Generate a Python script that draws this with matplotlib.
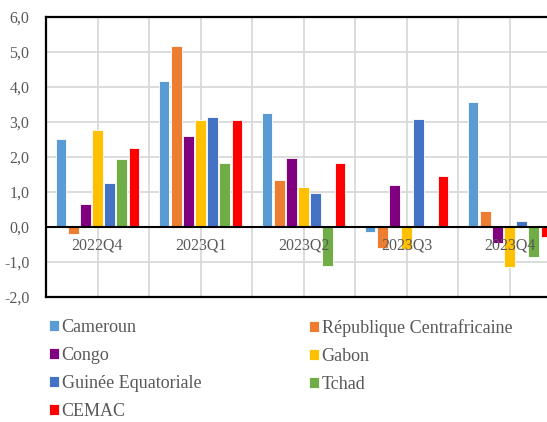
import numpy as np
import matplotlib
matplotlib.use("Agg")
import matplotlib.pyplot as plt

# quarters on the x axis
quarters = ["2022Q4", "2023Q1", "2023Q2", "2023Q3", "2023Q4"]

# values, one list per country
cameroun = [2.51, 4.16, 3.27, -0.13, 3.58]
rca = [-0.21, 5.16, 1.34, -0.59, 0.47]
congo = [0.66, 2.60, 1.97, 1.19, -0.45]
gabon = [2.77, 3.06, 1.14, -0.64, -1.15]
guinee = [1.26, 3.14, 0.98, 3.09, 0.17]
tchad = [1.94, 1.82, -1.10, -0.02, -0.87]
cemac = [2.26, 3.07, 1.82, 1.45, -0.29]

series_names = ["Cameroun", "République Centrafricaine", "Congo", "Gabon",
                "Guinée Equatoriale", "Tchad", "CEMAC"]
series_vals = [cameroun, rca, congo, gabon, guinee, tchad, cemac]
colors = ["#5B9BD5", "#ED7D31", "#800080", "#FFC000", "#4472C4", "#70AD47", "#FF0000"]

yticks = [-2, -1, 0, 1, 2, 3, 4, 5, 6]

TEXT = "#595959"
plt.rcParams["font.family"] = ["Liberation Serif", "DejaVu Serif"]

fig = plt.figure(figsize=(5.47, 4.22), dpi=100)
# plot area runs past the right edge of the picture, as in the reference
ax = fig.add_axes([46 / 547, 1 - 297 / 422, 515 / 547, 280 / 422])

x = np.arange(len(quarters))
slot = 0.118
bw = 0.104
bars = []
for i, (name, vals, col) in enumerate(zip(series_names, series_vals, colors)):
    b = ax.bar(x + (i - 3) * slot, vals, width=bw, color=col, edgecolor="white",
               linewidth=0.6, label=name, zorder=2)
    bars.append(b)

ax.set_xlim(-0.5, len(quarters) - 0.5)
ax.set_ylim(-2, 6)
ax.set_yticks(yticks)
ax.set_yticklabels([f"{v:.1f}".replace(".", ",") for v in yticks])
ax.set_xticks(np.arange(-0.5, len(quarters), 0.5))
ax.set_xticklabels([])
ax.tick_params(length=0, labelsize=11.5, labelcolor=TEXT, pad=12)
ax.grid(True, color="#D9D9D9", linewidth=1.3, zorder=0)
ax.set_axisbelow(True)
for s in ax.spines.values():
    s.set_color("black")
    s.set_linewidth(1.6)
ax.axhline(0, color="black", linewidth=1.5, zorder=3)

for xi, q in zip(x, quarters):
    ax.annotate(q, (xi, 0), xytext=(0, -13.5), textcoords="offset points",
                ha="center", va="center", fontsize=11.5, color=TEXT, zorder=5)

# legend in two blocks, filled row by row like the reference
left_idx = [0, 2, 4, 6]
right_idx = [1, 3, 5]
for idxs, xpos in [(left_idx, 49 / 547), (right_idx, 309 / 547)]:
    leg = fig.legend([bars[i] for i in idxs], [series_names[i] for i in idxs],
                     loc="upper left", bbox_to_anchor=(xpos, 1 - 319 / 422),
                     frameon=False, fontsize=13, handlelength=0.55,
                     handleheight=0.55, handletextpad=0.15, labelspacing=0.6,
                     borderpad=0, borderaxespad=0)
    for t in leg.get_texts():
        t.set_color(TEXT)

fig.savefig("out.png", dpi=100)
